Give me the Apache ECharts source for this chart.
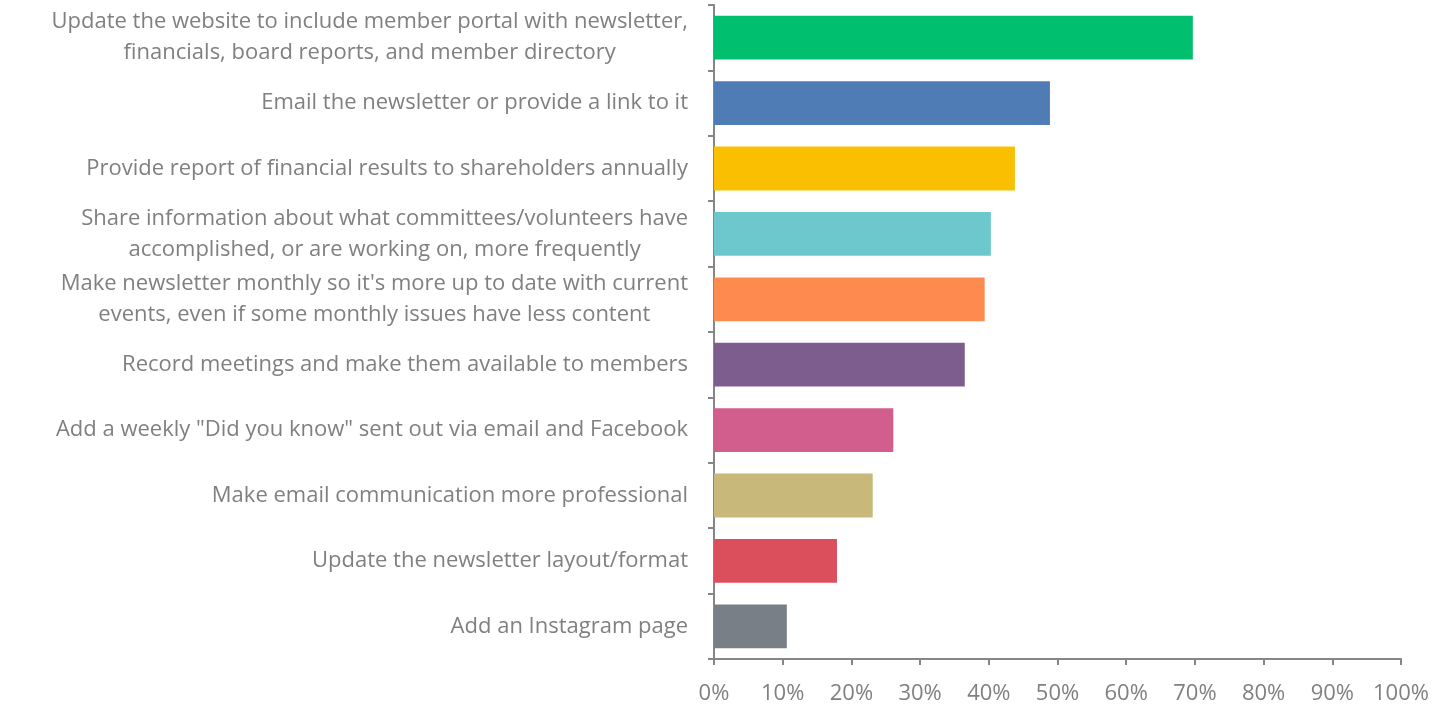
<!DOCTYPE html>
<html>
<head>
<meta charset="utf-8">
<script src="https://cdn.jsdelivr.net/npm/echarts@6/dist/echarts.min.js"></script>
<style>html,body{margin:0;padding:0;background:#fff;}#c{width:1441px;height:708px;}</style>
</head>
<body>
<div id="c"></div>
<script>
const categories = [
  "Update the website to include member portal with newsletter,\nfinancials, board reports, and member directory",
  "Email the newsletter or provide a link to it",
  "Provide report of financial results to shareholders annually",
  "Share information about what committees/volunteers have\naccomplished, or are working on, more frequently",
  "Make newsletter monthly so it's more up to date with current\nevents, even if some monthly issues have less content",
  "Record meetings and make them available to members",
  "Add a weekly \"Did you know\" sent out via email and Facebook",
  "Make email communication more professional",
  "Update the newsletter layout/format",
  "Add an Instagram page"
];
const values = [69.7, 48.9, 43.8, 40.3, 39.4, 36.5, 26.1, 23.1, 17.9, 10.6];
const colors = ["#00BF6F", "#4F7CB5", "#F9BF00", "#6CC8CC", "#FF8A50", "#7D5D8E", "#D25E8E", "#C8B97A", "#DB4F5D", "#787F87"];
const xTicks = { min: 0, max: 100, interval: 10 };

const chart = echarts.init(document.getElementById('c'));
const FONT = "Open Sans";
const TXT = "#808080";
chart.setOption({
  animation: false,
  grid: { left: 714, right: 40, top: 5, bottom: 49, containLabel: false },
  xAxis: {
    type: 'value', min: xTicks.min, max: xTicks.max, interval: xTicks.interval,
    axisLine: { show: true, lineStyle: { color: '#868686', width: 2 } },
    axisTick: { show: true, length: 6, lineStyle: { color: '#868686', width: 2 } },
    splitLine: { show: false },
    axisLabel: { formatter: '{value}%', color: TXT, fontFamily: FONT, fontSize: 22, margin: 24 }
  },
  yAxis: {
    type: 'category', inverse: true, data: categories,
    axisLine: { show: true, lineStyle: { color: '#868686', width: 2 } },
    axisTick: { show: true, length: 6, lineStyle: { color: '#868686', width: 2 } },
    axisLabel: {
      margin: 26, color: TXT, fontFamily: FONT, fontSize: 22,
      formatter: v => '{a|' + v + '}',
      rich: { a: { align: 'center', color: TXT, fontFamily: FONT, fontSize: 22, lineHeight: 31 } }
    }
  },
  series: [{
    type: 'bar',
    data: values.map((v, i) => ({ value: v, itemStyle: { color: colors[i] } })),
    barCategoryGap: '33%'
  }]
});
</script>
</body>
</html>
